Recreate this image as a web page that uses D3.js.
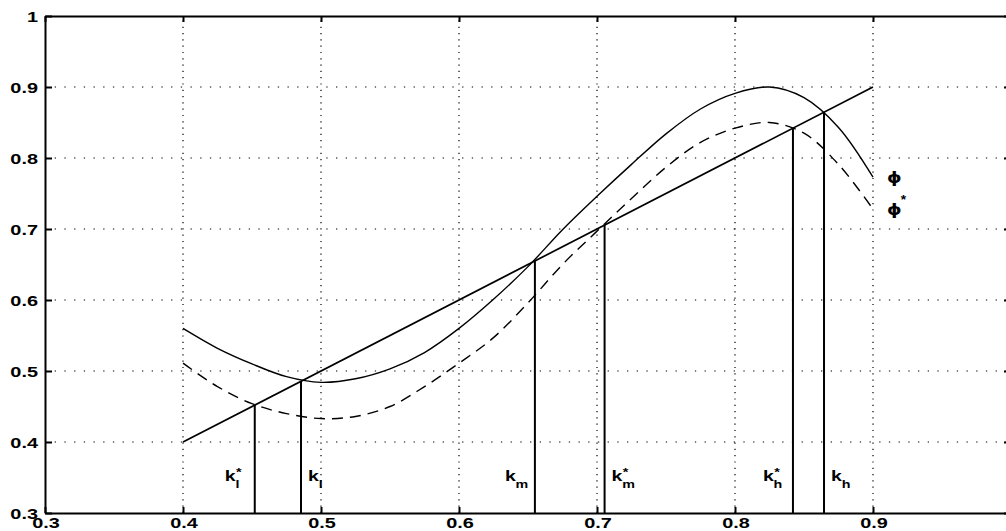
<!DOCTYPE html>
<html>
<head>
<meta charset="utf-8">
<script src="https://cdn.jsdelivr.net/npm/d3@7"></script>
<style>
  html, body { margin: 0; padding: 0; background: #fff; }
  svg { display: block; }
  text { font-family: "Liberation Sans", Arial, Helvetica, sans-serif; font-weight: bold; fill: #000; }
</style>
</head>
<body>
<svg id="chart" width="1006" height="531"></svg>
<script>
// ---- data ----
const xTicks = [0.3, 0.4, 0.5, 0.6, 0.7, 0.8, 0.9, 1.0];
const yTicks = [0.3, 0.4, 0.5, 0.6, 0.7, 0.8, 0.9, 1.0];
const xLabelTicks = [0.3, 0.4, 0.5, 0.6, 0.7, 0.8, 0.9];
const xTickLabels = ["0.3", "0.4", "0.5", "0.6", "0.7", "0.8", "0.9"];
const yTickLabels = ["0.3", "0.4", "0.5", "0.6", "0.7", "0.8", "0.9", "1"];

const kValues = [0.400, 0.425, 0.450, 0.475, 0.500, 0.525, 0.550, 0.575, 0.600, 0.625, 0.650,
                 0.675, 0.700, 0.725, 0.750, 0.775, 0.800, 0.825, 0.850, 0.875, 0.900];
const phiValues = [0.560, 0.532, 0.510, 0.492, 0.484, 0.489, 0.503, 0.526, 0.560, 0.601, 0.647,
                   0.699, 0.746, 0.791, 0.834, 0.869, 0.891, 0.900, 0.885, 0.843, 0.773];
const phiStarValues = [0.511, 0.478, 0.454, 0.440, 0.433, 0.436, 0.450, 0.478, 0.511, 0.547, 0.596,
                       0.650, 0.697, 0.743, 0.787, 0.822, 0.842, 0.850, 0.835, 0.791, 0.728];
// 45-degree line endpoints
const diagX = [0.4, 0.9];
const diagY = [0.4, 0.9];
// fixed points (where phi / phi* cross the 45-degree line)
const crossNames = ["k_l*", "k_l", "k_m", "k_m*", "k_h*", "k_h"];
const crossBase = ["k", "k", "k", "k", "k", "k"];
const crossSub = ["l", "l", "m", "m", "h", "h"];
const crossStar = [true, false, false, true, true, false];
const crossX = [0.452, 0.4855, 0.655, 0.7055, 0.842, 0.8645];
const crossSide = ["left", "right", "left", "right", "left", "right"];
const curveLabels = ["ϕ", "ϕ"];
const curveLabelStar = [false, true];

// ---- layout ----
const svg = d3.select("#chart");
const x = d3.scaleLinear().domain([0.3, 1.0]).range([45, 1011]);
const y = d3.scaleLinear().domain([0.3, 1.0]).range([513, 16]);
const TS = 1.42; // horizontal stretch of text

// grid
const g = svg.append("g");
g.selectAll("line.vg").data(xTicks.slice(1, -1)).enter().append("line")
  .attr("x1", d => x(d)).attr("x2", d => x(d))
  .attr("y1", y(0.3)).attr("y2", y(1.0))
  .attr("stroke", "#000").attr("stroke-width", 1.2)
  .attr("stroke-dasharray", "1.2,5.1");
g.selectAll("line.hg").data(yTicks.slice(1, -1)).enter().append("line")
  .attr("x1", x(0.3)).attr("x2", x(1.0))
  .attr("y1", d => y(d)).attr("y2", d => y(d))
  .attr("stroke", "#000").attr("stroke-width", 1.2)
  .attr("stroke-dasharray", "1.3,8.4");

// axes (ticks pointing inward, labels drawn separately)
const axL = d3.axisLeft(y).tickValues(yTicks).tickSizeInner(-7).tickSizeOuter(0).tickFormat("");
const axR = d3.axisRight(y).tickValues(yTicks).tickSizeInner(-7).tickSizeOuter(0).tickFormat("");
const axB = d3.axisBottom(x).tickValues(xTicks).tickSizeInner(-6).tickSizeOuter(0).tickFormat("");
const axT = d3.axisTop(x).tickValues(xTicks).tickSizeInner(-6).tickSizeOuter(0).tickFormat("");
function styleAxis(sel) {
  sel.selectAll("path").attr("stroke", "#000").attr("stroke-width", 2);
  sel.selectAll("line").attr("stroke", "#000").attr("stroke-width", 2);
}
svg.append("g").attr("transform", `translate(${x(0.3)},0)`).call(axL).call(styleAxis);
svg.append("g").attr("transform", `translate(${x(1.0)},0)`).call(axR).call(styleAxis);
svg.append("g").attr("transform", `translate(0,${y(0.3)})`).call(axB).call(styleAxis);
svg.append("g").attr("transform", `translate(0,${y(1.0)})`).call(axT).call(styleAxis);

// tick labels
svg.selectAll("text.yl").data(yTicks).enter().append("text")
  .attr("text-anchor", "end").style("font-size", "14px")
  .attr("transform", d => `translate(${x(0.3) - 7},${y(d) + 6})scale(${TS},1)`)
  .text((d, i) => yTickLabels[i]);
svg.selectAll("text.xl").data(xLabelTicks).enter().append("text")
  .attr("text-anchor", "middle").style("font-size", "14px")
  .attr("transform", d => `translate(${x(d) + 1},${y(0.3) + 15})scale(${TS},1)`)
  .text((d, i) => xTickLabels[i]);

// curves
const line = d3.line().x(d => x(d[0])).y(d => y(d[1])).curve(d3.curveCatmullRom.alpha(0.5));
svg.append("path").datum(kValues.map((k, i) => [k, phiValues[i]]))
  .attr("d", line).attr("fill", "none").attr("stroke", "#000").attr("stroke-width", 1.4);
svg.append("path").datum(kValues.map((k, i) => [k, phiStarValues[i]]))
  .attr("d", line).attr("fill", "none").attr("stroke", "#000").attr("stroke-width", 1.4)
  .attr("stroke-dasharray", "11,7");
svg.append("line")
  .attr("x1", x(diagX[0])).attr("y1", y(diagY[0]))
  .attr("x2", x(diagX[1])).attr("y2", y(diagY[1]))
  .attr("stroke", "#000").attr("stroke-width", 1.7);

// vertical lines at fixed points
svg.selectAll("line.kv").data(crossX).enter().append("line")
  .attr("x1", d => x(d)).attr("x2", d => x(d))
  .attr("y1", y(0.3)).attr("y2", d => y(d))
  .attr("stroke", "#000").attr("stroke-width", 2);

// k labels
crossX.forEach((kx, i) => {
  const px = x(kx);
  const left = crossSide[i] === "left";
  const lx = left ? px - 30 : px + 7;
  const t = svg.append("g").attr("transform", `translate(${lx},481)scale(1.3,1)`);
  t.append("text").attr("x", 0).attr("y", 0).style("font-size", "15px").text(crossBase[i]);
  t.append("text").attr("x", 8.2).attr("y", 7).style("font-size", "11px").text(crossSub[i]);
  if (crossStar[i]) {
    t.append("text").attr("x", 8.6).attr("y", -5).style("font-size", "11px").text("*");
  }
});

// curve labels
[phiValues[phiValues.length - 1], phiStarValues[phiStarValues.length - 1]].forEach((v, i) => {
  const px = x(kValues[kValues.length - 1]) + 14;
  const t = svg.append("g").attr("transform", `translate(${px},${y(v) + 1})scale(1.15,1)`);
  t.append("text").attr("x", 0).attr("y", 0).attr("dominant-baseline", "middle")
    .style("font-size", "16px").style("font-family", "'DejaVu Sans', sans-serif").text(curveLabels[i]);
  if (curveLabelStar[i]) {
    t.append("text").attr("x", 12).attr("y", -6).style("font-size", "12px").text("*");
  }
});
</script>
</body>
</html>
